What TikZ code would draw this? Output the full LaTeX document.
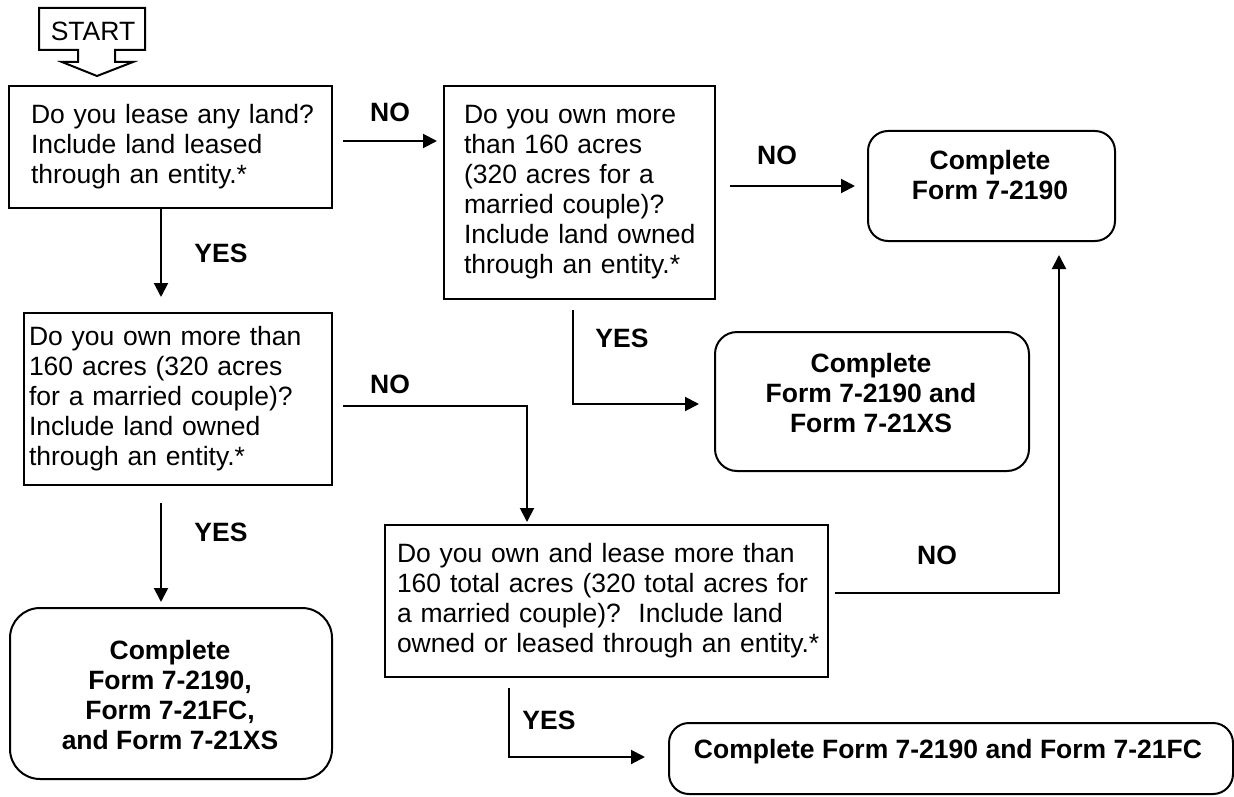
\documentclass[tikz,border=0pt]{standalone}
\usepackage{fontspec}
\setmainfont{Liberation Sans}
\usetikzlibrary{arrows.meta,calc}
\begin{document}
\begin{tikzpicture}[x=1pt,y=-1pt,
  every node/.style={font=\fontsize{26.5}{30}\selectfont},
  qbox/.style={draw, line width=2pt, align=left, inner ysep=0pt, anchor=north west},
  rbox/.style={draw, line width=2pt, anchor=north west, inner sep=0pt},
  btxt/.style={font=\fontsize{26.5}{30}\selectfont\bfseries, align=center},
  lab/.style={font=\fontsize{26.5}{30}\selectfont\bfseries},
  arr/.style={line width=2pt, -{Triangle[length=14pt,width=14pt]}},
  ln/.style={line width=2pt}]
\useasboundingbox (0,0) rectangle (1234,797);

% START block arrow
\draw[line width=2pt, line join=miter] (39,8) -- (145,8) -- (145,50) -- (115,50) -- (115,62) -- (133,62) -- (97,76) -- (62,62) -- (78,62) -- (78,50) -- (39,50) -- cycle;
\node (start) at (93,31) {START};

% question boxes
\node[qbox, text width=279pt, inner xsep=22pt, minimum height=122pt] (b1) at (8,85)
  {\mbox{Do you lease any land?}\\\mbox{Include land leased}\\\mbox{through an entity.*}};
\node[qbox, text width=231pt, inner xsep=20pt, minimum height=213pt] (b3) at (443,85)
  {\mbox{Do you own more}\\\mbox{than 160 acres}\\\mbox{(320 acres for a}\\\mbox{married couple)?}\\\mbox{Include land owned}\\\mbox{through an entity.*}};
\node[qbox, text width=298pt, inner xsep=5pt, minimum height=172pt] (b2) at (23,312)
  {\mbox{Do you own more than}\\\mbox{160 acres (320 acres}\\\mbox{for a married couple)?}\\\mbox{Include land owned}\\\mbox{through an entity.*}};
\node[qbox, text width=419pt, inner xsep=12pt, minimum height=152pt] (b4) at (384,524)
  {\mbox{Do you own and lease more than}\\\mbox{160 total acres (320 total acres for}\\\mbox{a married couple)?\ \ Include land}\\\mbox{owned or leased through an entity.*}};

% result boxes
\node[rbox, rounded corners=20pt, minimum width=247pt, minimum height=110pt] (b5) at (867,130) {};
\node[btxt] (b5t) at (990,175) {Complete\\Form 7-2190};
\node[rbox, rounded corners=22pt, minimum width=314pt, minimum height=139pt] (b6) at (714,331) {};
\node[btxt] (b6t) at (871,393) {Complete\\Form 7-2190 and\\Form 7-21XS};
\node[rbox, rounded corners=30pt, minimum width=322pt, minimum height=171pt] (b7) at (9,607) {};
\node[btxt] (b7t) at (170,695) {Complete\\Form 7-2190,\\Form 7-21FC,\\and Form 7-21XS};
\node[rbox, rounded corners=20pt, minimum width=564pt, minimum height=71pt] (b8) at (668,722) {};
\node[btxt] (b8t) at (948,752) {Complete Form 7-2190 and Form 7-21FC};

% free connector ends
\coordinate (n1s) at (343,141);
\coordinate (n1e) at (437,141);
\coordinate (y1e) at (161,297);
\coordinate (n2s) at (730,186);
\coordinate (n2e) at (855,186);
\coordinate (y2s) at (573,310);
\coordinate (y2c) at (573,404);
\coordinate (y2e) at (699,404);
\coordinate (n3s) at (343,406);
\coordinate (n3c) at (527,406);
\coordinate (n3e) at (527,522);
\coordinate (y3s) at (161,503);
\coordinate (y3e) at (161,602);
\coordinate (n4s) at (835,593);
\coordinate (n4c) at (1059,593);
\coordinate (n4e) at (1059,255);
\coordinate (y4s) at (509,688);
\coordinate (y4c) at (509,757);
\coordinate (y4e) at (645,757);

% connectors
\draw[arr] (n1s) -- (n1e);
\draw[arr] (b1.south -| y1e) -- (y1e);
\draw[arr] (n2s) -- (n2e);
\draw[arr] (y2s) -- (y2c) -- (y2e);
\draw[arr] (n3s) -- (n3c) -- (n3e);
\draw[arr] (y3s) -- (y3e);
\draw[arr] (n4s) -- (n4c) -- (n4e);
\draw[arr] (y4s) -- (y4c) -- (y4e);

% labels
\node[lab] (l1) at (390,112) {NO};
\node[lab] (l2) at (221,253) {YES};
\node[lab] (l3) at (777,155) {NO};
\node[lab] (l4) at (622,338) {YES};
\node[lab] (l5) at (390,384) {NO};
\node[lab] (l6) at (221,532) {YES};
\node[lab] (l7) at (937,555) {NO};
\node[lab] (l8) at (549,720) {YES};
\end{tikzpicture}
\end{document}
